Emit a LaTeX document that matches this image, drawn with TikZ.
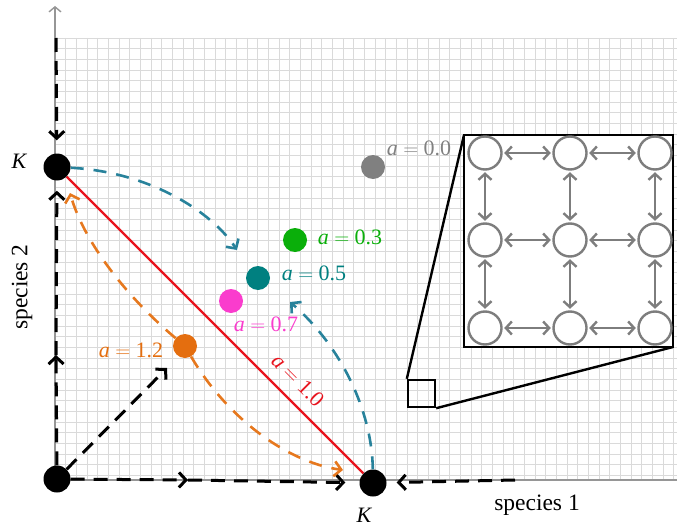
\documentclass[tikz,border=0pt]{standalone}
\usepackage{fontspec}
\setmainfont{Liberation Serif}
\usetikzlibrary{arrows.meta}
\definecolor{gridgray}{RGB}{218,218,218}
\definecolor{axisgray}{RGB}{150,150,150}
\definecolor{netgray}{RGB}{125,125,125}
\definecolor{redline}{RGB}{232,20,30}
\definecolor{flowteal}{RGB}{40,130,155}
\definecolor{flowor}{RGB}{230,120,30}
\definecolor{dotteal}{RGB}{0,128,128}
\definecolor{dotgreen}{RGB}{10,175,10}
\definecolor{dotpink}{RGB}{250,60,205}
\definecolor{dotorange}{RGB}{228,110,15}
\definecolor{dotgray}{RGB}{128,128,128}
\newcommand{\aval}[1]{\textit{a} $=$ #1}
\begin{document}
\begin{tikzpicture}[x=1pt,y=-1pt,
  lbl/.style={font=\fontsize{22}{26}\selectfont, inner sep=0},
  bigdot/.style={circle, fill=black, minimum size=27pt, inner sep=0},
  cdot/.style={circle, fill=#1, minimum size=24pt, inner sep=0},
  flow/.style={line width=3pt, dash pattern=on 14pt off 9pt,
    -{Straight Barb[length=7pt,width=15pt]}},
  cflow/.style={draw=#1, line width=2.6pt, dash pattern=on 13pt off 10pt,
    -{Straight Barb[length=7pt,width=15pt]}},
  cell/.style={circle, draw=netgray, line width=2.4pt, minimum size=33pt,
    inner sep=0, fill=white},
  link/.style={draw=netgray, line width=2.4pt,
    {Straight Barb[length=6pt,width=13pt]}-{Straight Barb[length=6pt,width=13pt]},
    shorten >=1.5pt, shorten <=1.5pt},
]
\useasboundingbox (0,0) rectangle (677,527);

% background grid
\begin{scope}
  \clip (55,38) rectangle (677,480);
  \foreach \i in {0,...,58}
    \draw[gridgray, line width=0.9pt] ({55+10.67*\i},38) -- ({55+10.67*\i},480);
  \foreach \j in {0,...,42}
    \draw[gridgray, line width=0.9pt] (55,{38+10.67*\j}) -- (677,{38+10.67*\j});
\end{scope}

% axes
\coordinate (O) at (55,480);
\coordinate (ytop) at (55,6);
\coordinate (xend) at (677,480);
\draw[axisgray, line width=1.4pt, -{Straight Barb[length=5pt,width=12pt]}] (O) -- (ytop);
\draw[axisgray, line width=1.4pt] (O) -- (xend);

% equilibria
\node[bigdot] (o) at (57,479) {};
\node[bigdot] (k2) at (57,167) {};
\node[bigdot] (k1) at (373,483) {};
\node[lbl, font=\fontsize{22}{24}\selectfont\itshape] (k2lbl) at (19,161) {K};
\node[lbl, font=\fontsize{22}{24}\selectfont\itshape] (k1lbl) at (364,515) {K};

% a = 1 line of neutral equilibria
\draw[redline, line width=2.4pt] (k2) -- (k1);

% coexistence points
\node[cdot=dotgray] (d0) at (373,167) {};
\node[cdot=dotgreen] (d3) at (295,240) {};
\node[cdot=dotteal] (d5) at (258,278) {};
\node[cdot=dotpink] (d7) at (231,301) {};
\node[cdot=dotorange] (d12) at (185,346) {};

\node[lbl, text=dotgray] (l0) at (419,148) {\aval{0.0}};
\node[lbl, text=dotgreen] (l3) at (350,237) {\aval{0.3}};
\node[lbl, text=dotteal] (l5) at (314,273) {\aval{0.5}};
\node[lbl, text=dotpink] (l7) at (266,324) {\aval{0.7}};
\node[lbl, text=dotorange] (l12) at (131,350) {\aval{1.2}};
\node[lbl, text=redline, rotate=-45] (l10) at (298,380) {\aval{1.0}};

% axis titles
\node[lbl, font=\fontsize{23.5}{27}\selectfont, rotate=90] (sp2) at (22,287) {species 2};
\node[lbl, font=\fontsize{23.5}{27}\selectfont] (sp1) at (537,505) {species 1};

% flows along the axes
\coordinate (t0) at (56,38);
\coordinate (v1) at (56,355);
\coordinate (h1) at (188,480);
\coordinate (r0) at (515,480);
\coordinate (dg) at (167,368);
\draw[flow, shorten >=13pt] (t0) -- (k2);
\draw[flow] (o) -- (v1);
\draw[flow, shorten >=10pt] (v1) -- (k2);
\draw[flow] (o) -- (h1);
\draw[flow, shorten >=14pt] (h1) -- (k1);
\draw[flow, shorten >=10pt] (r0) -- (k1);
\draw[flow] (o) -- (dg);

% flows towards the interior
\coordinate (tt1) at (237,250);
\coordinate (tt2) at (290,302);
\coordinate (oo1) at (70,193);
\coordinate (oo2) at (343,470);
\draw[cflow=flowteal] (k2) .. controls (150,172) and (212,212) .. (tt1);
\draw[cflow=flowteal] (k1) .. controls (372,410) and (340,345) .. (tt2);
\draw[cflow=flowor] (d12) .. controls (130,300) and (85,245) .. (oo1);
\draw[cflow=flowor] (d12) .. controls (225,415) and (285,462) .. (oo2);

% zoomed lattice
\node[draw, line width=2.4pt, minimum size=27pt, inner sep=0] (small) at (421.5,393.5) {};
\draw[line width=2.4pt] (small.north west) -- (464,135) coordinate (bnw);
\draw[line width=2.4pt] (small.south east) -- (673,347) coordinate (bse);
\node[draw, line width=2.8pt, fill=white, minimum width=209pt, minimum height=212pt,
  inner sep=0] (big) at (568.5,241) {};

\foreach \c/\x in {1/485,2/570,3/655}
  \foreach \r/\y in {1/153,2/240,3/328}
    \node[cell] (c\r\c) at (\x,\y) {};

\foreach \r in {1,2,3} {
  \draw[link] (c\r1) -- (c\r2);
  \draw[link] (c\r2) -- (c\r3);
  \draw[link] (c1\r) -- (c2\r);
  \draw[link] (c2\r) -- (c3\r);
}
\end{tikzpicture}
\end{document}
